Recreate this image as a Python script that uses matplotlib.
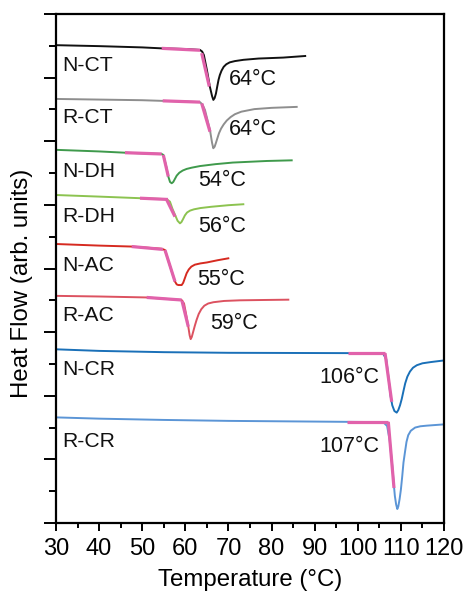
import matplotlib
matplotlib.use("Agg")
import matplotlib.pyplot as plt
from matplotlib.ticker import MultipleLocator

plt.rcParams['font.family'] = ['Liberation Sans', 'DejaVu Sans']

# ---- data (temperature in °C, heat flow in arb. units, offset) ----
nct_T = [30, 40, 50, 54.5, 60, 63.4, 63.9, 64.3, 65.0, 65.7, 66.2, 66.5, 66.8, 67.1, 67.4, 67.7, 68.0, 68.4, 68.9, 69.5, 70.3, 71.5, 73.5, 77.0, 82.7, 87.8]
nct_H = [15.02, 14.99, 14.95, 14.92, 14.90, 14.87, 14.82, 14.71, 14.24, 13.71, 13.42, 13.30, 13.36, 13.50, 13.72, 13.93, 14.08, 14.22, 14.34, 14.42, 14.48, 14.52, 14.56, 14.60, 14.63, 14.68]

rct_T = [30, 40, 50, 54.5, 60, 63.4, 64.0, 64.56, 65.72, 66.2, 66.49, 66.8, 67.1, 67.4, 67.8, 68.3, 68.9, 69.6, 70.5, 71.5, 73.0, 76.0, 80.0, 85.83]
rct_H = [13.33, 13.31, 13.29, 13.27, 13.25, 13.23, 13.15, 12.98, 12.35, 11.95, 11.78, 11.83, 11.95, 12.08, 12.25, 12.40, 12.53, 12.65, 12.76, 12.85, 12.93, 13.01, 13.05, 13.08]

ndh_T = [30, 40, 46.0, 54.52, 54.89, 55.5, 56.05, 56.45, 56.84, 57.2, 57.6, 58.0, 58.6, 59.4, 60.3, 61.5, 63.4, 67.0, 71.0, 78.9, 84.67]
ndh_H = [11.73, 11.68, 11.64, 11.60, 11.57, 11.25, 10.89, 10.72, 10.68, 10.72, 10.82, 10.92, 11.01, 11.08, 11.13, 11.17, 11.22, 11.28, 11.33, 11.38, 11.40]

rdh_T = [30, 40, 49.48, 55.68, 56.44, 57.0, 57.6, 58.2, 58.76, 59.1, 59.5, 59.9, 60.4, 61.1, 62.0, 63.5, 66.0, 70.0, 73.45]
rdh_H = [10.31, 10.26, 10.21, 10.18, 10.10, 9.88, 9.69, 9.50, 9.42, 9.46, 9.56, 9.67, 9.76, 9.82, 9.86, 9.90, 9.94, 9.99, 10.02]

nac_T = [30, 40, 47.56, 54.52, 55.28, 56.4, 57.6, 58.0, 58.37, 59.15, 59.5, 59.9, 60.3, 60.8, 61.4, 62.2, 63.5, 65.0, 67.5, 69.97]
nac_H = [8.77, 8.72, 8.69, 8.62, 8.58, 8.10, 7.59, 7.50, 7.48, 7.48, 7.55, 7.70, 7.85, 7.97, 8.06, 8.12, 8.16, 8.19, 8.26, 8.32]

rac_T = [30, 40, 51.04, 59.15, 59.7, 60.2, 60.69, 61.0, 61.24, 61.5, 61.8, 62.2, 62.6, 63.1, 63.7, 64.4, 65.3, 66.5, 69.0, 72.7, 78.0, 83.89]
rac_H = [7.14, 7.12, 7.09, 7.01, 6.90, 6.55, 6.17, 5.90, 5.78, 5.85, 6.00, 6.20, 6.38, 6.57, 6.72, 6.83, 6.90, 6.94, 6.98, 7.00, 7.01, 7.02]

ncr_T = [30, 40, 55, 70, 97.8, 105.9, 106.6, 107.1, 107.6, 108.0, 108.5, 109.03, 109.4, 109.8, 110.2, 110.6, 111.0, 111.5, 112.1, 112.8, 113.7, 115.0, 117.0, 120]
ncr_H = [5.46, 5.41, 5.37, 5.35, 5.34, 5.32, 5.15, 4.60, 4.00, 3.70, 3.52, 3.47, 3.55, 3.70, 3.90, 4.15, 4.39, 4.60, 4.76, 4.88, 4.96, 5.02, 5.06, 5.11]

rcr_T = [30, 40, 55, 70, 97.4, 105.9, 106.8, 107.4, 108.0, 108.4, 108.6, 108.9, 109.17, 109.4, 109.7, 110.0, 110.3, 110.6, 110.96, 111.3, 111.7, 112.3, 113.3, 114.5, 116.0, 120]
rcr_H = [3.32, 3.28, 3.24, 3.21, 3.18, 3.17, 3.05, 2.60, 1.80, 1.15, 0.85, 0.58, 0.44, 0.52, 0.75, 1.05, 1.45, 1.90, 2.24, 2.55, 2.76, 2.90, 3.00, 3.04, 3.06, 3.10]

# onset tangent lines (baseline tangent, leading-edge tangent)
tangents = {
    'N-CT': ([54.52, 63.40], [14.92, 14.86], [63.80, 65.56], [14.77, 13.72]),
    'R-CT': ([54.75, 63.40], [13.27, 13.23], [63.80, 65.72], [13.19, 12.30]),
    'N-DH': ([46.00, 54.52], [11.64, 11.60], [54.89, 56.05], [11.57, 10.89]),
    'R-DH': ([49.48, 55.98], [10.21, 10.17], [55.68, 57.60], [10.16, 9.63]),
    'N-AC': ([47.56, 54.82], [8.69, 8.60], [55.28, 57.60], [8.58, 7.59]),
    'R-AC': ([51.04, 59.15], [7.09, 7.01], [59.23, 60.69], [6.98, 6.17]),
    'N-CR': ([97.80, 106.32], [5.34, 5.34], [106.32, 107.87], [5.34, 3.81]),
    'R-CR': ([97.43, 107.08], [3.18, 3.18], [107.08, 108.40], [3.18, 1.10]),
}

names = ['N-CT', 'R-CT', 'N-DH', 'R-DH', 'N-AC', 'R-AC', 'N-CR', 'R-CR']
temps_lbl = ['64°C', '64°C', '54°C', '56°C', '55°C', '59°C', '106°C', '107°C']
name_y = [14.37, 12.75, 11.04, 9.65, 8.08, 6.51, 4.81, 2.56]
peak_lbl_x = [70.13, 70.13, 62.87, 63.01, 62.78, 65.72, 91.08, 91.08]
peak_lbl_y = [13.93, 12.38, 10.78, 9.31, 7.66, 6.26, 4.58, 2.42]

colors = ['#111111', '#8e8e8e', '#3f9a4c', '#8cc350', '#d62a20', '#dc5260', '#1a70b8', '#5b95d6']
pink = '#e162ab'

curves = [(nct_T, nct_H), (rct_T, rct_H), (ndh_T, ndh_H), (rdh_T, rdh_H),
          (nac_T, nac_H), (rac_T, rac_H), (ncr_T, ncr_H), (rcr_T, rcr_H)]

fig = plt.figure(figsize=(4.64, 5.92), dpi=100)
ax = fig.add_axes([56/464, 1 - 523/592, (444 - 56)/464, (523 - 14)/592])

for (T, H), c in zip(curves, colors):
    ax.plot(T, H, color=c, lw=1.4, zorder=2, solid_joinstyle='round')

for n in names:
    bx, by, sx, sy = tangents[n]
    ax.plot(bx, by, color=pink, lw=2.3, zorder=3, solid_capstyle='butt')
    ax.plot(sx, sy, color=pink, lw=2.3, zorder=3, solid_capstyle='butt')

for n, y in zip(names, name_y):
    ax.text(31.55, y, n, fontsize=15.2, va='center', ha='left', color='#111111')

for t, x, y in zip(temps_lbl, peak_lbl_x, peak_lbl_y):
    ax.text(x, y, t, fontsize=15.5, va='center', ha='left', color='#111111')

ax.set_xlim(30, 120)
ax.set_ylim(0, 16)
ax.xaxis.set_major_locator(MultipleLocator(10))
ax.xaxis.set_minor_locator(MultipleLocator(5))
ax.yaxis.set_major_locator(MultipleLocator(2))
ax.yaxis.set_minor_locator(MultipleLocator(1))
ax.tick_params(axis='x', which='major', length=6, width=1.4, labelsize=17, pad=5, direction='out')
ax.tick_params(axis='x', which='minor', length=3.5, width=1.4, direction='out')
ax.tick_params(axis='y', which='major', length=9, width=1.4, direction='out', labelleft=False)
ax.tick_params(axis='y', which='minor', length=5, width=1.4, direction='out')
for s in ax.spines.values():
    s.set_linewidth(1.6)

ax.set_xlabel('Temperature (°C)', fontsize=17.3, labelpad=6)
ax.set_ylabel('Heat Flow (arb. units)', fontsize=17.3)
ax.yaxis.set_label_coords(-0.058, 0.4715)

fig.savefig('out.png', dpi=100)
